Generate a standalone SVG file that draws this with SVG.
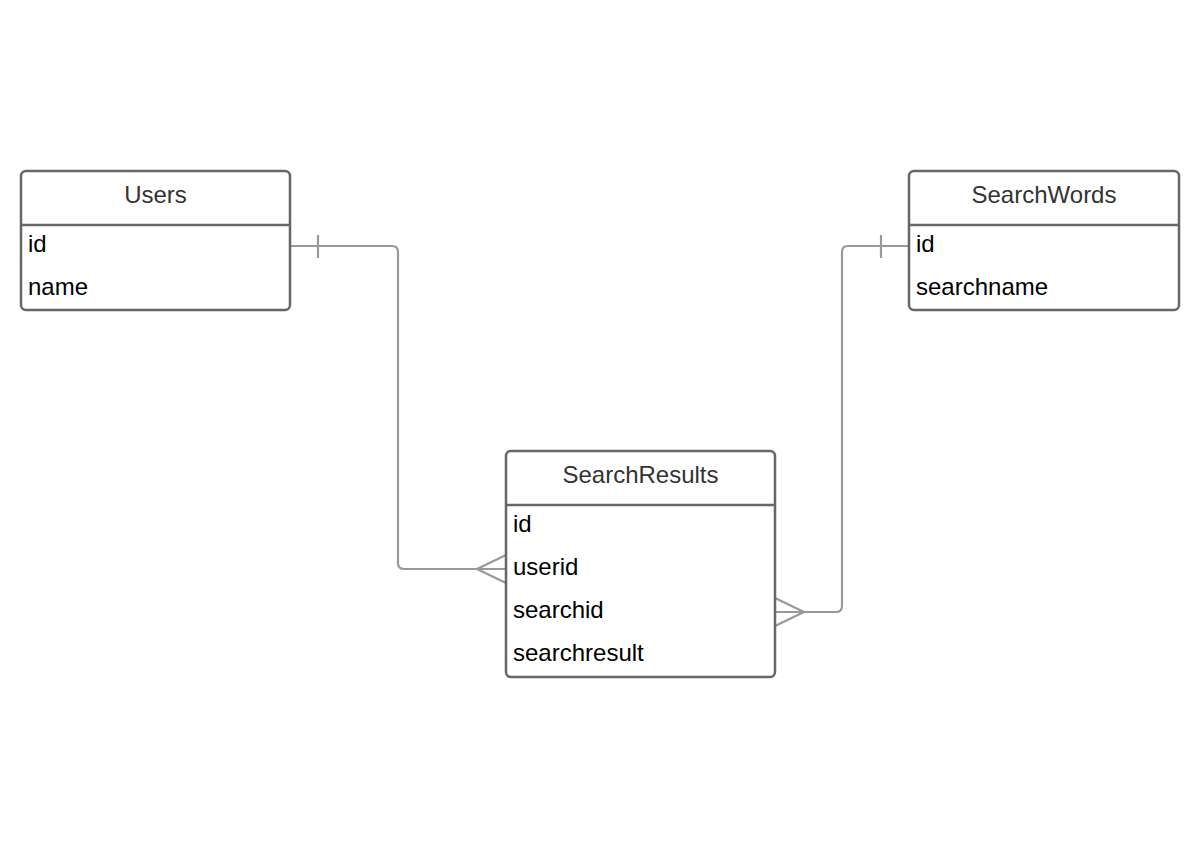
<svg xmlns="http://www.w3.org/2000/svg" width="1200" height="848" viewBox="0 0 1200 848">
<style>
.box{fill:#fff;stroke:#666;stroke-width:2.5}
.sep{stroke:#666;stroke-width:2.5}
.hdr{font-family:"Liberation Sans",Arial,sans-serif;font-size:24px;fill:#333;text-anchor:middle}
.fld{font-family:"Liberation Sans",Arial,sans-serif;font-size:24px;fill:#000}
.con{fill:none;stroke:#999;stroke-width:2.2}
</style>
<rect width="1200" height="848" fill="#fff"/>
<g id="connectors">
<path class="con" d="M290,246 H392 Q398,246 398,252 V563 Q398,569 404,569 H506"/>
<path class="con" d="M318,235 V258"/>
<path class="con" d="M506,555 L477,569 L506,583"/>
<path class="con" d="M775,612 H836 Q842,612 842,606 V252 Q842,246 848,246 H909"/>
<path class="con" d="M881,235 V258"/>
<path class="con" d="M775,598 L804,612 L775,626"/>
</g>
<g id="Users">
<rect class="box" x="21" y="171" width="269" height="139" rx="5"/>
<line class="sep" x1="21" y1="225" x2="290" y2="225"/>
<text class="hdr" x="155.5" y="202.5">Users</text>
<text class="fld" x="28" y="252">id</text>
<text class="fld" x="28" y="295">name</text>
</g>
<g id="SearchWords">
<rect class="box" x="909" y="171" width="270" height="139" rx="5"/>
<line class="sep" x1="909" y1="225" x2="1179" y2="225"/>
<text class="hdr" x="1044" y="202.5">SearchWords</text>
<text class="fld" x="916" y="252">id</text>
<text class="fld" x="916" y="295">searchname</text>
</g>
<g id="SearchResults">
<rect class="box" x="506" y="451" width="269" height="226" rx="5"/>
<line class="sep" x1="506" y1="505" x2="775" y2="505"/>
<text class="hdr" x="640.5" y="482.5">SearchResults</text>
<text class="fld" x="513" y="532">id</text>
<text class="fld" x="513" y="575">userid</text>
<text class="fld" x="513" y="618">searchid</text>
<text class="fld" x="513" y="661">searchresult</text>
</g>
</svg>
